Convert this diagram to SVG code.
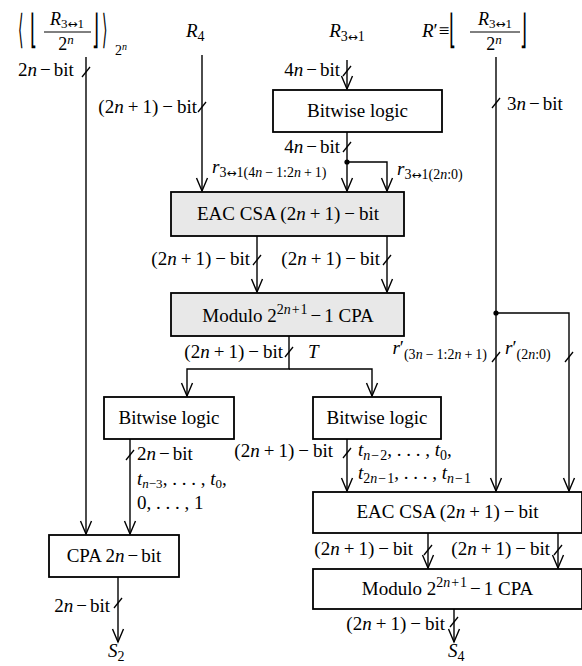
<svg xmlns="http://www.w3.org/2000/svg" width="582" height="666" viewBox="0 0 582 666">
<style>
text{font-family:"Liberation Serif","Times New Roman",serif;font-size:19px;fill:#000}
.i{font-style:italic}
.s{font-size:14px}
.ss{font-size:10px}
.f{font-size:18px}
.fs{font-size:13px}
.m{text-anchor:middle}
.e{text-anchor:end}
.a{font-family:"DejaVu Sans",sans-serif;font-size:12px}
.d{font-family:"DejaVu Sans ExtraLight","DejaVu Sans",sans-serif;font-weight:200;font-size:20px}
.box{fill:#fff;stroke:#000;stroke-width:1.8}
.g{fill:#e8e8e8}
.ln{fill:none;stroke:#000;stroke-width:1.4}
.ar{marker-end:url(#ar)}
.tk{stroke:#000;stroke-width:1.3}
</style>
<defs>
<marker id="ar" viewBox="-15 -8 17 16" markerWidth="17" markerHeight="16" refX="0" refY="0" orient="auto" markerUnits="userSpaceOnUse">
<path d="M-13,-5.5 L0,0 L-13,5.5" fill="none" stroke="#000" stroke-width="1.4"/>
</marker>
</defs>

<g id="inputs">
<g id="in-left">
<text class="d" transform="translate(18,43) scale(0.7,2)">⟨</text>
<text class="d" transform="translate(30,43) scale(0.9,2)">⌊</text>
<text class="m f" x="67" y="25"><tspan class="i">R</tspan><tspan class="fs" dy="3">3<tspan class="a">↔</tspan>1</tspan></text>
<line x1="44" y1="32" x2="91" y2="32" stroke="#000" stroke-width="1"/>
<text class="m f" x="66" y="50">2<tspan class="fs i" dy="-6">n</tspan></text>
<text class="d" transform="translate(92,43) scale(0.9,2)">⌋</text>
<text class="d" transform="translate(102,43) scale(0.7,2)">⟩</text>
<text class="s" x="115" y="55">2<tspan class="ss i" dy="-5">n</tspan></text>
</g>
<g id="in-r4"><text x="186" y="37"><tspan class="i">R</tspan><tspan class="s" dy="4">4</tspan></text></g>
<g id="in-r31"><text class="m" x="347" y="37"><tspan class="i">R</tspan><tspan class="s" dy="4">3<tspan class="a">↔</tspan>1</tspan></text></g>
<g id="in-rp">
<text x="422" y="37"><tspan class="i">R</tspan>′<tspan dx="1">≡</tspan></text>
<text class="d" transform="translate(449,43) scale(0.9,2)">⌊</text>
<text class="m f" x="495" y="25"><tspan class="i">R</tspan><tspan class="fs" dy="3">3<tspan class="a">↔</tspan>1</tspan></text>
<line x1="470" y1="32" x2="520" y2="32" stroke="#000" stroke-width="1"/>
<text class="m f" x="494" y="50">2<tspan class="fs i" dy="-6">n</tspan></text>
<text class="d" transform="translate(520,43) scale(0.9,2)">⌋</text>
</g>
</g>

<g id="connectors">
<path class="ln ar" d="M86,57 V534"/>
<path class="ln ar" d="M202,55 V191"/>
<path class="ln ar" d="M347,60 V89"/>
<path class="ln ar" d="M347,132 V191"/>
<path class="ln ar" d="M347,162 H387 V191"/>
<circle cx="347" cy="162" r="2.6"/>
<path class="ln ar" d="M257,236 V292"/>
<path class="ln ar" d="M387,236 V292"/>
<path class="ln ar" d="M289,336 V369 H187 V396"/>
<path class="ln ar" d="M289,369 H372 V396"/>
<path class="ln ar" d="M130,439 V534"/>
<path class="ln ar" d="M347,439 V491"/>
<path class="ln ar" d="M496,57 V491"/>
<path class="ln ar" d="M496,313 H569 V491"/>
<circle cx="496" cy="313" r="2.6"/>
<path class="ln ar" d="M428,533 V568"/>
<path class="ln ar" d="M558,533 V568"/>
<path class="ln ar" d="M454,609 V642"/>
<path class="ln ar" d="M118,577 V642"/>
<g id="ticks">
<path class="tk" d="M82,77 L90,67"/>
<path class="tk" d="M198,112 L206,102"/>
<path class="tk" d="M343,76 L351,66"/>
<path class="tk" d="M343,152 L351,142"/>
<path class="tk" d="M253,265 L261,255"/>
<path class="tk" d="M383,265 L391,255"/>
<path class="tk" d="M285,357 L293,347"/>
<path class="tk" d="M492,108 L500,98"/>
<path class="tk" d="M492,362 L500,352"/>
<path class="tk" d="M565,362 L573,352"/>
<path class="tk" d="M126,460 L134,450"/>
<path class="tk" d="M343,458 L351,448"/>
<path class="tk" d="M424,555 L432,545"/>
<path class="tk" d="M554,555 L562,545"/>
<path class="tk" d="M450,627 L458,617"/>
<path class="tk" d="M114,608 L122,598"/>
</g>
</g>

<g id="labels">
<text x="18" y="76">2<tspan class="i">n</tspan><tspan dx="3">−</tspan><tspan dx="3">bit</tspan></text>
<text class="e" x="197" y="113">(2<tspan class="i">n</tspan><tspan dx="4">+</tspan><tspan dx="4">1)</tspan><tspan dx="4">−</tspan><tspan dx="4">bit</tspan></text>
<text class="e" x="340" y="76">4<tspan class="i">n</tspan><tspan dx="3">−</tspan><tspan dx="3">bit</tspan></text>
<text x="507" y="110">3<tspan class="i">n</tspan><tspan dx="3">−</tspan><tspan dx="3">bit</tspan></text>
<text class="e" x="340" y="153">4<tspan class="i">n</tspan><tspan dx="3">−</tspan><tspan dx="3">bit</tspan></text>
<text x="212" y="173"><tspan class="i">r</tspan><tspan class="s" dy="4">3<tspan class="a">↔</tspan>1(4<tspan class="i">n</tspan><tspan dx="3">−</tspan><tspan dx="3">1:2</tspan><tspan class="i">n</tspan><tspan dx="3">+</tspan><tspan dx="3">1)</tspan></tspan></text>
<text x="397" y="175"><tspan class="i">r</tspan><tspan class="s" dy="4">3<tspan class="a">↔</tspan>1(2<tspan class="i">n</tspan>:0)</tspan></text>
<text class="e" x="250" y="265">(2<tspan class="i">n</tspan><tspan dx="4">+</tspan><tspan dx="4">1)</tspan><tspan dx="4">−</tspan><tspan dx="4">bit</tspan></text>
<text class="e" x="380" y="265">(2<tspan class="i">n</tspan><tspan dx="4">+</tspan><tspan dx="4">1)</tspan><tspan dx="4">−</tspan><tspan dx="4">bit</tspan></text>
<text class="e" x="283" y="358">(2<tspan class="i">n</tspan><tspan dx="4">+</tspan><tspan dx="4">1)</tspan><tspan dx="4">−</tspan><tspan dx="4">bit</tspan></text>
<text class="i" x="308" y="358">T</text>
<text class="e" x="487" y="354"><tspan class="i">r</tspan>′<tspan class="s" dy="5">(3<tspan class="i">n</tspan><tspan dx="3">−</tspan><tspan dx="3">1:2</tspan><tspan class="i">n</tspan><tspan dx="3">+</tspan><tspan dx="3">1)</tspan></tspan></text>
<text x="505" y="354"><tspan class="i">r</tspan>′<tspan class="s" dy="5">(2<tspan class="i">n</tspan>:0)</tspan></text>
<text x="137" y="460">2<tspan class="i">n</tspan><tspan dx="3">−</tspan><tspan dx="3">bit</tspan></text>
<text x="137" y="485"><tspan class="i">t</tspan><tspan class="s" style="font-size:13px" dy="3"><tspan class="i">n</tspan>−3</tspan><tspan dy="-3">, . . . , </tspan><tspan class="i">t</tspan><tspan class="s" style="font-size:13px" dy="3">0</tspan><tspan dy="-3">,</tspan></text>
<text x="137" y="509">0, . . . , 1</text>
<text class="e" x="333" y="457">(2<tspan class="i">n</tspan><tspan dx="4">+</tspan><tspan dx="4">1)</tspan><tspan dx="4">−</tspan><tspan dx="4">bit</tspan></text>
<text x="358" y="456"><tspan class="i">t</tspan><tspan class="s" dy="4"><tspan class="i">n</tspan><tspan dx="1">−</tspan><tspan dx="1">2</tspan></tspan><tspan dy="-4">, . . . , </tspan><tspan class="i">t</tspan><tspan class="s" dy="4">0</tspan><tspan dy="-4">,</tspan></text>
<text x="358" y="479"><tspan class="i">t</tspan><tspan class="s" dy="4">2<tspan class="i">n</tspan><tspan dx="1">−</tspan><tspan dx="1">1</tspan></tspan><tspan dy="-4">, . . . , </tspan><tspan class="i">t</tspan><tspan class="s" dy="4"><tspan class="i">n</tspan><tspan dx="1">−</tspan><tspan dx="1">1</tspan></tspan></text>
<text class="e" x="413" y="555">(2<tspan class="i">n</tspan><tspan dx="4">+</tspan><tspan dx="4">1)</tspan><tspan dx="4">−</tspan><tspan dx="4">bit</tspan></text>
<text class="e" x="550" y="555">(2<tspan class="i">n</tspan><tspan dx="4">+</tspan><tspan dx="4">1)</tspan><tspan dx="4">−</tspan><tspan dx="4">bit</tspan></text>
<text class="e" x="445" y="630">(2<tspan class="i">n</tspan><tspan dx="4">+</tspan><tspan dx="4">1)</tspan><tspan dx="4">−</tspan><tspan dx="4">bit</tspan></text>
<text class="e" x="110" y="612">2<tspan class="i">n</tspan><tspan dx="3">−</tspan><tspan dx="3">bit</tspan></text>
<text x="448" y="657"><tspan class="i">S</tspan><tspan class="s" dy="4">4</tspan></text>
<text x="108" y="657"><tspan class="i">S</tspan><tspan class="s" dy="4">2</tspan></text>
</g>

<g id="bitwise-top">
<rect class="box" x="273" y="90" width="169" height="42"/>
<text class="m" x="357.5" y="117">Bitwise logic</text>
</g>
<g id="eac-csa-top">
<rect class="box g" x="171" y="192" width="233" height="44"/>
<text class="m" x="288" y="220">EAC CSA (2<tspan class="i">n</tspan><tspan dx="4">+</tspan><tspan dx="4">1)</tspan><tspan dx="4">−</tspan><tspan dx="4">bit</tspan></text>
</g>
<g id="modulo-top">
<rect class="box g" x="171" y="293" width="233" height="43"/>
<text class="m" x="288" y="322">Modulo 2<tspan class="s" dy="-8">2<tspan class="i">n</tspan><tspan dx="1">+</tspan><tspan dx="1">1</tspan></tspan><tspan dy="8" dx="3">−</tspan><tspan dx="3">1 CPA</tspan></text>
</g>
<g id="bitwise-left">
<rect class="box" x="104" y="397" width="130" height="42"/>
<text class="m" x="169" y="424">Bitwise logic</text>
</g>
<g id="bitwise-right">
<rect class="box" x="313" y="397" width="128" height="42"/>
<text class="m" x="377" y="424">Bitwise logic</text>
</g>
<g id="cpa-2n">
<rect class="box" x="49" y="535" width="130" height="42"/>
<text class="m" x="114" y="562">CPA 2<tspan class="i">n</tspan><tspan dx="3">−</tspan><tspan dx="3">bit</tspan></text>
</g>
<g id="eac-csa-bottom">
<rect class="box" x="313" y="492" width="269" height="41"/>
<text class="m" x="447.5" y="518">EAC CSA (2<tspan class="i">n</tspan><tspan dx="4">+</tspan><tspan dx="4">1)</tspan><tspan dx="4">−</tspan><tspan dx="4">bit</tspan></text>
</g>
<g id="modulo-bottom">
<rect class="box" x="313" y="569" width="269" height="40"/>
<text class="m" x="447.5" y="595">Modulo 2<tspan class="s" dy="-8">2<tspan class="i">n</tspan><tspan dx="1">+</tspan><tspan dx="1">1</tspan></tspan><tspan dy="8" dx="3">−</tspan><tspan dx="3">1 CPA</tspan></text>
</g>
</svg>
